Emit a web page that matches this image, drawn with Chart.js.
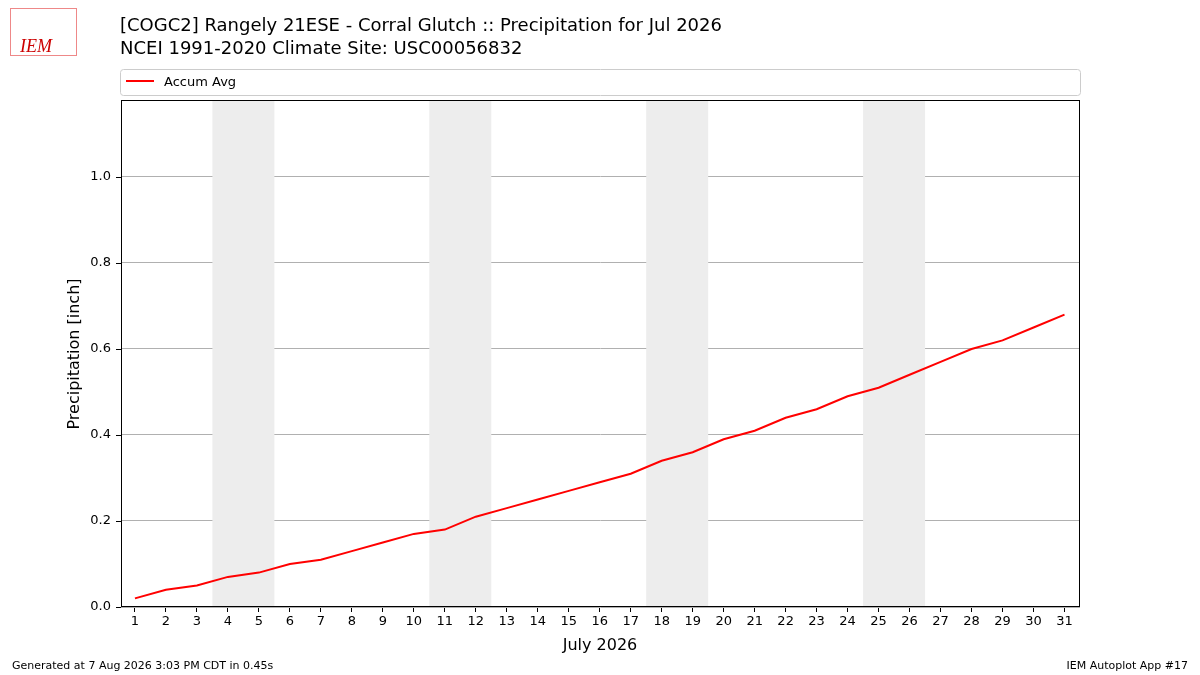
<!DOCTYPE html>
<html><head><meta charset="utf-8">
<script src="https://cdn.jsdelivr.net/npm/chart.js@4"></script>
<style>html,body{margin:0;padding:0;background:#fff}#w{position:relative;width:1200px;height:675px}</style>
</head><body><div id="w"><canvas id="c" width="1200" height="675"></canvas></div>
<script>
const days = Array.from({length:31},(_,i)=>i+1);
const accumAvg = [0.02,0.04,0.05,0.07,0.08,0.10,0.11,0.13,0.15,0.17,0.18,0.21,0.23,0.25,0.27,0.29,0.31,0.34,0.36,0.39,0.41,0.44,0.46,0.49,0.51,0.54,0.57,0.60,0.62,0.65,0.68];
const weekends = [[3.5,5.5],[10.5,12.5],[17.5,19.5],[24.5,26.5]];
const yTicks = [0,0.2,0.4,0.6,0.8,1.0];
const F = "'DejaVu Sans', sans-serif";

const deco = {
  id:'deco',
  beforeDatasetsDraw(ch){
    const {ctx,chartArea:a,scales:{x}} = ch;
    ctx.save(); ctx.fillStyle='#ededed';
    weekends.forEach(([s,e])=>{const x0=x.getPixelForValue(s),x1=x.getPixelForValue(e);ctx.fillRect(x0,a.top,x1-x0,a.bottom-a.top);});
    ctx.restore();
  },
  afterDraw(ch){
    const {ctx,chartArea:a,scales:{y}} = ch;
    ctx.save();
    ctx.strokeStyle='#000'; ctx.lineWidth=1; ctx.strokeRect(a.left+0.5,a.top+0.5,a.right-a.left-1,a.bottom-a.top-1);
    ctx.beginPath();
    yTicks.forEach(v=>{const py=Math.round(y.getPixelForValue(v))+0.5;ctx.moveTo(a.left-5,py);ctx.lineTo(a.left,py);});
    ctx.stroke();
    ctx.fillStyle='#000'; ctx.textBaseline='alphabetic';
    ctx.font='18px '+F; ctx.fillText('[COGC2] Rangely 21ESE - Corral Glutch :: Precipitation for Jul 2026',120,31);
    ctx.fillText('NCEI 1991-2020 Climate Site: USC00056832',120,54);
    ctx.font='11px '+F; ctx.fillText('Generated at 7 Aug 2026 3:03 PM CDT in 0.45s',12,669);
    ctx.textAlign='right'; ctx.fillText('IEM Autoplot App #17',1188,669);
    ctx.textAlign='center'; ctx.font='16px '+F; ctx.fillText('July 2026',600,650);
    ctx.save(); ctx.translate(79,354); ctx.rotate(-Math.PI/2); ctx.fillText('Precipitation [inch]',0,0); ctx.restore();
    ctx.textAlign='left';
    ctx.strokeStyle='#ccc'; ctx.lineWidth=1; ctx.beginPath(); ctx.roundRect(120.5,69.5,960,26,3); ctx.stroke();
    ctx.strokeStyle='red'; ctx.lineWidth=2; ctx.beginPath(); ctx.moveTo(126,81); ctx.lineTo(154,81); ctx.stroke();
    ctx.font='13px '+F; ctx.fillText('Accum Avg',164,86);
    ctx.fillStyle='#c00'; ctx.font='italic 18px serif'; ctx.fillText('IEM',20,52);
    ctx.strokeStyle='#e88'; ctx.lineWidth=1; ctx.strokeRect(10.5,8.5,66,47);
    ctx.restore();
  }
};

new Chart(document.getElementById('c'),{
  type:'line',
  data:{labels:days,datasets:[{label:'Accum Avg',data:days.map((d,i)=>({x:d,y:accumAvg[i]})),borderColor:'red',borderWidth:2,pointRadius:0,tension:0,fill:false}]},
  options:{responsive:false,animation:false,
    layout:{padding:{top:100,right:120,left:0,bottom:0}},
    plugins:{legend:{display:false},tooltip:{enabled:false}},
    scales:{
      x:{type:'linear',min:0.55,max:31.5,
        afterBuildTicks(s){s.ticks=days.map(v=>({value:v}));},
        afterFit(s){s.height=68;},
        grid:{drawOnChartArea:false,drawTicks:true,tickLength:5,color:'#000'},border:{display:false},
        ticks:{color:'#000',font:{family:F,size:13},maxRotation:0,autoSkip:false,padding:2}},
      y:{min:0,max:1.179,
        afterBuildTicks(s){s.ticks=yTicks.map(v=>({value:v}));},
        afterFit(s){s.width=121;},
        grid:{color:'#b0b0b0',drawTicks:false},border:{display:false},
        ticks:{color:'#000',font:{family:F,size:13},padding:10,callback:v=>v.toFixed(1)}}
    }},
  plugins:[deco]
});
</script></body></html>
